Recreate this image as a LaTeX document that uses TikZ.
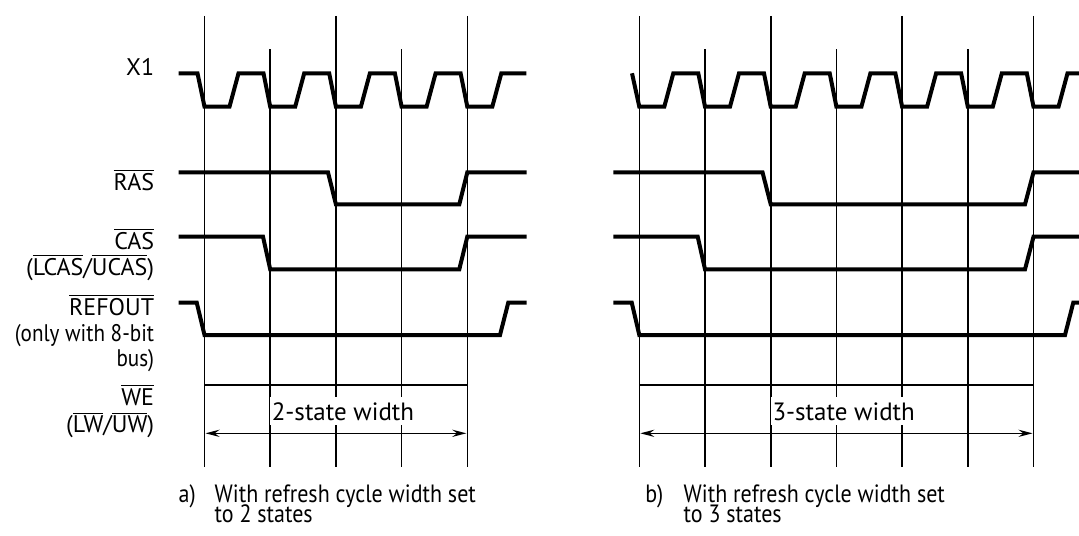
\documentclass[tikz,border=0pt]{standalone}
\usepackage{fontspec}
\setmainfont{PT Sans}
\newfontfamily\capfont[FakeStretch=0.88]{PT Sans}
\usetikzlibrary{arrows.meta}
\newcommand\ovl[1]{\ensuremath{\overline{\mbox{#1}}}}
\newcommand\capsize{\capfont\fontsize{12.5}{10}\selectfont\lineskiplimit=-20pt\relax}
\begin{document}
\begin{tikzpicture}[x=0.5pt,y=-0.5pt,
    sig/.style={line width=2pt,line join=miter},
    grid/.style={line width=0.8pt},
    lbl/.style={anchor=base east,inner sep=0pt,font=\fontsize{12}{14}\selectfont},
    txt/.style={anchor=base west,inner sep=0pt,font=\fontsize{12.5}{10}\selectfont},
    captxt/.style={anchor=base west,inner sep=0pt,font=\capsize},
    dim/.style={line width=0.8pt,{Stealth[length=7pt,width=3.6pt,inset=2.4pt]}-{Stealth[length=7pt,width=3.6pt,inset=2.4pt]}}]
  \useasboundingbox (0,0) rectangle (1079,535);

  % signal names
  \node[lbl] (nx)   at (154.5,75.7)  {X1};
  \node[lbl] (nras) at (154.5,190)   {\ovl{RAS}};
  \node[lbl] (ncas) at (154.5,249.3) {\ovl{CAS}};
  \node[lbl] (nlu)  at (154.5,275)   {(\ovl{LCAS}/\ovl{UCAS})};
  \node[lbl] (nref) at (154.5,315)   {\ovl{REFOUT}};
  \node[lbl] (nonl) at (154.5,341.7) {\capfont(only with 8-bit};
  \node[lbl] (nbus) at (154.5,366.7) {\capfont bus)};
  \node[lbl] (nwe)  at (154.5,405)   {\ovl{WE}};
  \node[lbl] (nlw)  at (154.5,432.7) {(\ovl{LW}/\ovl{UW})};

  % grid a): every clock fall, long lines at odd ones
  \foreach \l/\t in {204.5/16,270.2/49.3,335.9/16,401.6/49.3,467.3/16}
    \draw[grid] (\l,\t) -- (\l,467);
  % grid b)
  \foreach \l/\t in {639.3/16,705/49.3,770.7/16,836.4/49.3,902.1/16,967.8/49.3,1033.5/16}
    \draw[grid] (\l,\t) -- (\l,467);

  % X1
  \draw[sig] (178.7,73.3) -- (197.5,73.3)
    \foreach \l in {204.5,270.2,335.9,401.6,467.3}
      { -- (\l,106.7) -- (\l+25,106.7) -- (\l+34,73.3) -- (\l+59,73.3) };
  \draw[sig] (632,73.3)
    \foreach \l in {639.3,705,770.7,836.4,902.1,967.8}
      { -- (\l,106.7) -- (\l+25,106.7) -- (\l+34,73.3) -- (\l+59,73.3) }
    -- (1033.5,106.7) -- (1058.5,106.7) -- (1067.5,73.3) -- (1079,73.3);

  % RAS
  \draw[sig] (178.7,172.3) -- (328,172.3) -- (335.9,204.3) -- (459.3,204.3)
    -- (467.3,172.3) -- (526.7,172.3);
  \draw[sig] (613.3,172.3) -- (762.5,172.3) -- (770.7,204.3) -- (1025,204.3)
    -- (1033.5,172.3) -- (1079,172.3);

  % CAS
  \draw[sig] (178.7,236.7) -- (263,236.7) -- (270.2,269.3) -- (459.3,269.3)
    -- (467.3,236.7) -- (526.7,236.7);
  \draw[sig] (613.3,236.7) -- (697.7,236.7) -- (705,269.3) -- (1025,269.3)
    -- (1033.5,236.7) -- (1079,236.7);

  % REFOUT
  \draw[sig] (178.7,302.5) -- (196.7,302.5) -- (204.5,335) -- (500,335)
    -- (508.3,302.5) -- (526.7,302.5);
  \draw[sig] (613.3,302.5) -- (631.7,302.5) -- (639.3,335) -- (1065,335)
    -- (1073.3,302.5) -- (1079,302.5);

  % refresh cycle width
  \draw[grid] (204.5,385) -- (467.3,385);
  \draw[dim] (205.5,433.3) -- (466.3,433.3);
  \node[txt,anchor=base,fill=white,inner xsep=1pt,inner ysep=2.5pt] (wa) at (343,420) {2-state width};
  \draw[grid] (639.3,385) -- (1033.5,385);
  \draw[dim] (640.3,433.3) -- (1032.5,433.3);
  \node[txt,anchor=base,fill=white,inner xsep=1pt,inner ysep=2.5pt] (wb) at (843.7,420) {3-state width};

  % captions
  \node[captxt] (ca)  at (178.3,502) {a)};
  \node[captxt,align=left] (ca1) at (214.3,522) {With refresh cycle width set\\to 2 states};
  \node[captxt] (cb)  at (645,502)   {b)};
  \node[captxt,align=left] (cb1) at (683.3,522) {With refresh cycle width set\\to 3 states};
\end{tikzpicture}
\end{document}
